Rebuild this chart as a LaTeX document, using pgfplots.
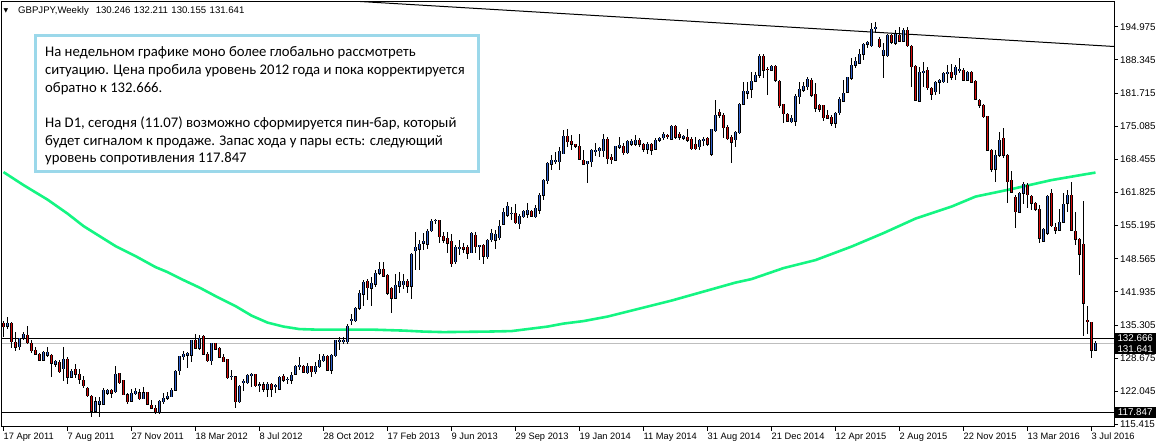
\documentclass[border=0pt]{standalone}
\usepackage{fontspec}
\setmainfont{Liberation Sans}
\newfontfamily\calibri{Carlito}
\newfontfamily\dejavu{DejaVu Sans}
\usepackage{pgfplots}
\usepackage{pgfplotstable}
\pgfplotsset{compat=1.18}
\definecolor{bull}{RGB}{50,100,210}
\definecolor{bear}{RGB}{215,10,10}
\definecolor{magreen}{RGB}{20,245,130}
\definecolor{boxblue}{RGB}{155,216,234}
\definecolor{lvlgrey}{RGB}{190,190,190}

\pgfplotstableread{
i O H L C
0 135.6 136.2 133.0 135.0
1 135.1 137.0 134.5 135.6
2 135.6 136.0 130.8 132.0
3 131.9 134.0 130.2 130.9
4 131.0 132.8 130.4 132.6
5 132.7 134.0 132.4 133.4
6 133.3 135.1 131.5 131.8
7 131.6 132.3 129.8 130.2
8 130.3 130.9 129.3 129.5
9 129.5 129.8 128.1 128.3
10 128.3 130.2 128.1 129.9
11 129.3 131.0 129.0 129.8
12 129.2 129.5 125.0 127.7
13 127.5 128.4 127.0 128.0
14 127.9 128.3 125.8 126.0
15 126.6 131.0 124.1 128.5
16 128.5 129.0 123.5 124.9
17 124.9 126.6 124.8 126.1
18 126.5 127.5 124.7 125.5
19 125.5 126.6 123.6 124.5
20 124.2 125.1 122.7 123.2
21 122.7 123.0 121.0 121.2
22 121.1 121.3 116.9 118.1
23 118.1 121.0 117.9 120.0
24 119.5 121.0 117.0 120.0
25 119.5 122.7 119.3 122.2
26 121.7 122.6 121.3 122.2
27 122.2 122.6 120.8 121.7
28 122.0 127.1 121.8 125.5
29 125.6 125.8 123.5 123.8
30 124.2 124.4 121.3 121.4
31 121.4 121.8 119.5 120.0
32 120.1 122.6 120.0 121.6
33 121.6 122.8 121.3 122.1
34 121.8 122.6 120.4 120.6
35 120.6 123.0 120.6 121.8
36 121.8 122.0 119.3 119.5
37 119.3 120.3 118.6 118.7
38 118.7 119.3 117.5 117.9
39 117.9 120.3 117.5 120.1
40 120.0 121.7 119.6 120.7
41 120.7 122.0 120.3 121.0
42 121.0 122.8 120.9 122.3
43 122.3 126.3 122.2 126.0
44 126.2 129.1 125.4 129.0
45 129.0 130.2 128.3 129.5
46 129.3 130.0 126.7 129.6
47 129.3 132.4 128.0 132.3
48 132.2 133.5 130.5 130.7
49 130.7 133.3 130.3 132.7
50 133.1 133.4 129.3 129.5
51 129.5 130.0 128.0 128.2
52 128.2 131.8 127.3 131.6
53 131.6 131.8 130.3 130.5
54 130.6 131.0 128.7 128.9
55 128.9 129.5 127.9 128.0
56 128.4 128.6 124.6 124.8
57 125.0 126.3 124.3 125.1
58 125.0 125.1 118.8 120.0
59 120.0 123.3 119.8 123.1
60 123.8 124.5 122.2 124.0
61 123.8 125.6 123.6 125.3
62 125.3 125.8 123.0 125.5
63 125.5 125.6 123.0 123.2
64 123.3 124.0 122.0 123.4
65 123.4 124.0 122.0 122.5
66 122.5 124.0 120.9 123.5
67 123.5 123.8 121.0 122.5
68 123.0 123.6 121.8 123.2
69 122.5 125.1 122.3 124.8
70 125.0 125.6 124.0 124.3
71 124.4 125.0 123.6 124.5
72 124.3 126.0 123.6 125.3
73 125.5 127.3 125.3 127.1
74 127.0 129.0 126.3 127.2
75 127.1 127.3 125.7 125.9
76 125.8 127.8 125.5 127.0
77 127.0 127.0 125.0 126.0
78 126.0 128.0 125.6 127.0
79 127.0 129.6 126.7 128.3
80 128.2 129.6 128.0 129.0
81 129.0 129.3 126.2 126.3
82 126.3 129.5 125.5 129.3
83 129.2 132.3 129.0 132.2
84 132.1 133.0 130.3 132.2
85 132.0 133.0 131.6 132.3
86 132.0 135.5 131.5 135.0
87 136.2 137.6 135.3 136.5
88 136.2 139.0 136.0 138.7
89 138.7 142.3 138.3 141.7
90 141.5 144.3 139.1 143.9
91 144.1 144.6 140.3 142.8
92 142.7 145.0 139.1 143.7
93 143.5 146.3 143.0 145.7
94 145.7 148.0 145.3 146.5
95 146.5 148.0 144.9 145.1
96 145.3 145.6 141.3 141.7
97 142.6 143.0 137.8 140.7
98 140.7 145.6 140.5 143.3
99 143.1 146.0 141.7 144.0
100 143.4 145.6 142.6 144.0
101 144.0 144.5 141.7 143.1
102 143.1 149.7 140.5 149.5
103 150.2 154.0 146.3 150.9
104 150.5 152.3 146.3 151.5
105 151.7 153.8 150.3 152.1
106 151.5 154.5 150.5 154.0
107 154.2 156.6 154.0 156.0
108 156.2 156.6 155.6 156.3
109 156.2 156.3 151.7 153.0
110 153.0 154.0 151.7 152.3
111 152.6 154.0 149.7 151.7
112 152.0 153.6 147.0 147.6
113 148.0 151.3 147.6 150.9
114 150.6 152.3 149.3 150.9
115 150.9 151.7 149.7 150.5
116 150.9 151.3 148.6 149.7
117 149.8 154.0 149.7 153.6
118 153.3 154.0 149.7 151.0
119 151.1 151.3 148.3 151.3
120 151.3 151.5 147.5 149.1
121 149.0 152.5 148.6 152.3
122 152.4 154.6 152.0 153.6
123 152.3 154.3 150.5 153.5
124 152.8 156.3 152.3 155.0
125 155.5 158.7 155.3 157.8
126 157.3 160.0 157.0 159.0
127 157.6 159.0 156.3 157.7
128 157.6 159.5 155.5 155.8
129 155.6 157.6 154.6 157.1
130 157.0 158.3 156.7 158.0
131 157.5 159.7 156.7 158.3
132 158.0 158.3 156.9 157.1
133 157.0 159.3 156.7 158.7
134 158.3 161.7 157.6 161.3
135 161.3 164.6 160.3 164.3
136 164.2 168.0 163.6 167.6
137 167.5 169.3 166.3 168.2
138 168.0 170.0 167.6 168.3
139 168.0 171.0 166.3 170.0
140 169.6 174.3 169.5 173.0
141 173.1 174.6 171.0 172.0
142 172.0 173.3 170.3 171.5
143 171.5 171.5 170.8 171.1
144 171.0 173.5 168.3 168.5
145 168.3 170.3 167.3 167.5
146 167.6 168.2 163.8 168.0
147 168.0 170.6 167.0 170.3
148 170.1 171.7 169.1 170.3
149 170.2 171.0 169.0 170.7
150 170.2 173.5 169.0 172.5
151 172.5 173.0 167.6 168.6
152 168.8 169.6 167.6 168.4
153 168.3 171.1 168.2 171.0
154 170.9 173.0 170.6 171.3
155 171.0 171.7 169.3 169.8
156 169.8 172.3 169.5 172.0
157 171.5 172.5 171.1 172.0
158 171.5 173.3 171.1 172.3
159 172.3 172.8 171.0 171.5
160 171.5 171.7 170.0 170.5
161 170.5 172.0 169.6 171.5
162 171.5 171.8 169.3 170.3
163 170.5 172.8 170.3 172.3
164 172.3 173.0 172.0 172.6
165 172.8 174.0 172.4 173.5
166 173.3 173.5 172.6 173.0
167 172.5 175.3 172.3 175.1
168 175.1 175.3 172.6 172.9
169 173.4 174.0 172.4 172.9
170 172.7 173.3 172.3 173.0
171 172.8 174.5 172.0 172.3
172 172.4 173.0 170.3 170.6
173 171.5 173.0 170.3 170.6
174 171.0 172.6 170.3 172.2
175 172.3 173.0 171.1 172.5
176 172.6 173.0 171.1 171.5
177 169.5 174.6 169.1 174.5
178 174.2 180.4 174.0 177.3
179 177.8 178.5 176.8 177.3
180 177.3 177.7 172.7 174.8
181 174.8 175.3 172.3 172.6
182 172.8 173.3 167.8 171.9
183 172.4 174.2 170.9 173.8
184 173.8 179.7 173.6 179.5
185 179.5 184.0 179.3 182.0
186 181.7 184.0 180.6 182.0
187 182.5 185.9 180.8 184.1
188 184.1 185.9 184.0 185.3
189 185.3 189.5 184.7 189.0
190 189.1 189.6 184.7 186.3
191 186.5 187.0 181.3 186.4
192 186.3 187.3 186.1 187.0
193 187.1 187.3 184.0 184.3
194 184.1 184.3 178.8 179.2
195 179.4 179.6 175.7 177.6
196 177.5 177.8 175.9 176.1
197 176.0 177.3 175.7 176.6
198 176.1 181.6 175.2 181.1
199 181.0 184.0 179.6 182.5
200 182.3 184.0 181.9 183.0
201 183.0 185.0 182.3 184.5
202 184.3 184.7 181.0 181.3
203 181.4 183.7 178.0 178.7
204 179.3 179.6 178.0 178.5
205 179.3 179.4 176.1 176.8
206 177.3 178.3 176.5 176.7
207 176.8 177.3 175.2 175.7
208 175.7 178.0 174.7 177.7
209 177.8 181.0 177.4 180.5
210 180.1 184.3 179.9 181.7
211 181.9 185.0 181.7 184.8
212 184.7 188.7 184.3 187.3
213 187.3 189.0 186.7 188.1
214 187.7 190.6 187.5 189.4
215 189.5 191.7 188.3 191.4
216 191.5 192.1 190.7 191.8
217 191.2 195.7 191.0 194.5
218 194.7 195.9 193.7 194.8
219 192.5 193.0 190.8 191.0
220 189.3 191.7 184.8 190.3
221 189.2 193.6 189.0 193.3
222 193.3 193.6 191.5 191.9
223 191.7 194.3 191.3 193.5
224 193.3 195.0 192.0 192.1
225 192.1 194.7 192.0 194.3
226 194.3 195.0 191.0 191.2
227 191.0 191.3 183.0 187.0
228 187.1 187.3 180.1 180.3
229 180.1 187.0 180.1 185.9
230 185.9 188.0 183.0 186.1
231 186.3 187.0 182.3 182.8
232 182.7 183.0 180.3 181.5
233 182.0 184.1 181.3 183.9
234 183.9 184.5 181.5 184.3
235 184.0 186.0 183.7 185.7
236 185.6 187.3 183.7 185.8
237 185.8 187.6 184.3 184.9
238 185.4 187.3 184.3 186.8
239 186.3 188.8 185.7 186.5
240 186.3 186.7 184.1 184.3
241 184.3 186.1 184.1 185.8
242 185.8 186.1 183.7 183.9
243 184.1 184.3 180.3 180.5
244 180.3 180.5 178.8 179.3
245 179.2 179.5 176.8 177.0
246 177.0 177.2 170.1 170.3
247 170.3 170.5 166.0 166.5
248 166.5 170.3 163.9 169.3
249 169.3 174.0 169.0 172.3
250 172.6 174.8 168.8 169.3
251 169.3 169.6 159.7 164.0
252 164.3 166.1 161.7 161.9
253 160.8 161.3 154.7 158.0
254 157.9 162.0 157.7 161.7
255 161.7 164.0 159.5 163.5
256 163.2 163.7 158.8 161.4
257 161.1 161.3 158.3 159.7
258 159.7 160.0 158.1 158.5
259 158.5 159.3 151.7 152.7
260 152.1 154.8 151.9 154.5
261 153.7 161.3 153.3 161.1
262 161.6 162.6 155.0 155.2
263 154.9 155.7 153.6 154.3
264 154.3 158.5 154.1 155.9
265 155.9 161.7 155.7 159.5
266 159.7 162.3 158.0 161.2
267 161.3 164.0 154.1 154.3
268 154.1 158.0 151.3 152.5
269 152.5 152.8 145.3 149.5
270 151.5 160.1 133.2 139.7
271 136.3 139.2 133.5 136.1
272 135.9 136.0 128.7 130.3
273 130.246 132.211 130.155 131.641
}\candles

\pgfplotstableread{
i v
0 165.9
5 163.3
11 160.4
16 157.6
20 155.1
24 153.1
28 151.1
33 149.1
38 146.9
41 145.9
45 144.3
49 142.8
53 141.1
58 139.1
62 137.2
66 135.8
70 135.0
74 134.5
78 134.4
83 134.4
92 134.4
100 134.2
105 134.0
110 133.9
121 134.0
127 134.1
130 134.4
133 134.7
136 135.0
140 135.6
145 136.1
151 137.0
157 138.2
162 139.2
167 140.2
175 142.0
183 143.8
187 144.5
195 146.7
203 148.3
212 151.0
220 153.7
228 156.6
237 159.0
243 161.0
252 162.5
262 164.3
270 165.4
273 165.8
}\ma

\begin{document}
\begin{tikzpicture}
\begin{axis}[
  scale only axis, width=1112bp, height=425.5bp,
  xmin=-0.375, xmax=277.625, ymin=114.92, ymax=200.02,
  clip=false,
  axis line style={black, line width=1bp},
  tick style={black, line width=1bp},
  major tick length=4bp,
  tick align=outside,
  xtick pos=left, ytick pos=right, yticklabel pos=right,
  xtick={0,16,...,272},
  xticklabels={17 Apr 2011,7 Aug 2011,27 Nov 2011,18 Mar 2012,8 Jul 2012,28 Oct 2012,17 Feb 2013,9 Jun 2013,29 Sep 2013,19 Jan 2014,11 May 2014,31 Aug 2014,21 Dec 2014,12 Apr 2015,2 Aug 2015,22 Nov 2015,13 Mar 2016,3 Jul 2016},
  ytick={115.415,122.045,128.675,135.305,141.935,148.565,155.195,161.825,168.455,175.085,181.715,188.345,194.975},
  yticklabels={115.415,122.045,128.675,135.305,141.935,148.565,155.195,161.825,168.455,175.085,181.715,188.345,194.975},
  tick label style={inner sep=0pt},
  xticklabel style={anchor=north west, yshift=-2bp, font=\fontsize{9.3bp}{10bp}\selectfont},
  yticklabel style={anchor=west, xshift=2bp, font=\fontsize{9.8bp}{10bp}\selectfont},
  error bars/error mark=none,
]
% level lines
\addplot[black, line width=1bp, forget plot] coordinates {(-0.375,132.666) (277.625,132.666)};
\addplot[lvlgrey, line width=1bp, forget plot] coordinates {(-0.375,131.641) (277.625,131.641)};
\addplot[black, line width=1bp, forget plot] coordinates {(-0.375,117.847) (277.625,117.847)};
% trend line
\addplot[black, line width=1bp, forget plot] coordinates {(89.125,200.02) (277.625,191.02)};
% moving average
\addplot[magreen, line width=2.6bp, forget plot] table[x=i, y=v] {\ma};
% wicks
\addplot[color=black, only marks, mark=none, mark size=0pt, forget plot,
  error bars/.cd, y dir=both, y explicit,
  error bar style={color=black, solid, line width=1bp}]
  table[x=i, y expr={(\thisrow{H}+\thisrow{L})/2}, y error expr={(\thisrow{H}-\thisrow{L})/2}] {\candles};
% body outline (black, slightly wider)
\addplot[color=black, only marks, mark=none, mark size=0pt, forget plot,
  error bars/.cd, y dir=both, y explicit,
  error bar style={color=black, solid, line width=3.6bp}]
  table[x=i, y expr={(\thisrow{O}+\thisrow{C})/2}, y error expr={abs(\thisrow{O}-\thisrow{C})/2+0.1}] {\candles};
% bull bodies
\addplot[color=bull, only marks, mark=none, mark size=0pt, forget plot,
  restrict expr to domain={\thisrow{C}-\thisrow{O}}{0:1000},
  error bars/.cd, y dir=both, y explicit,
  error bar style={color=bull, solid, line width=1.8bp}]
  table[x=i, y expr={(\thisrow{O}+\thisrow{C})/2}, y error expr={abs(\thisrow{O}-\thisrow{C})/2+0.02}] {\candles};
% bear bodies
\addplot[color=bear, only marks, mark=none, mark size=0pt, forget plot,
  restrict expr to domain={\thisrow{O}-\thisrow{C}}{0.001:1000},
  error bars/.cd, y dir=both, y explicit,
  error bar style={color=bear, solid, line width=1.8bp}]
  table[x=i, y expr={(\thisrow{O}+\thisrow{C})/2}, y error expr={abs(\thisrow{O}-\thisrow{C})/2+0.02}] {\candles};

% header
\node[inner sep=0pt, font=\dejavu\fontsize{6bp}{6bp}\selectfont] at (axis cs:0.625,198.22) {▼};
\node[anchor=base west, inner sep=0pt, font=\fontsize{9.6bp}{10bp}\selectfont] at (axis cs:3.625,197.52) {GBPJPY,Weekly\hspace{7bp}130.246\hspace{3.5bp}132.211\hspace{3.5bp}130.155\hspace{3.5bp}131.641};

% text box
\draw[boxblue, line width=3.5bp, fill=white] (axis cs:8.05,193.18) rectangle (axis cs:118.8,166.06);
\begin{scope}[every node/.style={anchor=base west, inner sep=0pt, font=\calibri\fontsize{14.7bp}{18bp}\selectfont}]
\node at (axis cs:10.375,189.02) {На недельном графике моно более глобально рассмотреть};
\node at (axis cs:10.375,185.42) {ситуацию. Цена пробила уровень 2012 года и пока корректируется};
\node at (axis cs:10.375,181.82) {обратно к 132.666.};
\node at (axis cs:10.375,174.82) {На D1, сегодня (11.07) возможно сформируется пин-бар, который};
\node at (axis cs:10.375,171.26) {будет сигналом к продаже. Запас хода у пары есть: следующий};
\node at (axis cs:10.375,167.72) {уровень сопротивления 117.847};
\end{scope}

% price markers
\begin{scope}[every node/.style={anchor=west, fill=black, text=white, inner xsep=0pt, inner ysep=0pt, minimum width=42bp, font=\fontsize{9.8bp}{10bp}\selectfont}]
\node[minimum height=10bp] at (axis cs:277.625,130.46) {131.641};
\node[minimum height=11bp] at (axis cs:277.625,132.666) {132.666};
\node[minimum height=11bp] at (axis cs:277.625,117.847) {117.847};
\end{scope}
\end{axis}
\pgfresetboundingbox
\path[use as bounding box] ([shift={(-2bp,-21bp)}]current axis.south west) rectangle ([shift={(42bp,1.5bp)}]current axis.north east);
\end{tikzpicture}
\end{document}
